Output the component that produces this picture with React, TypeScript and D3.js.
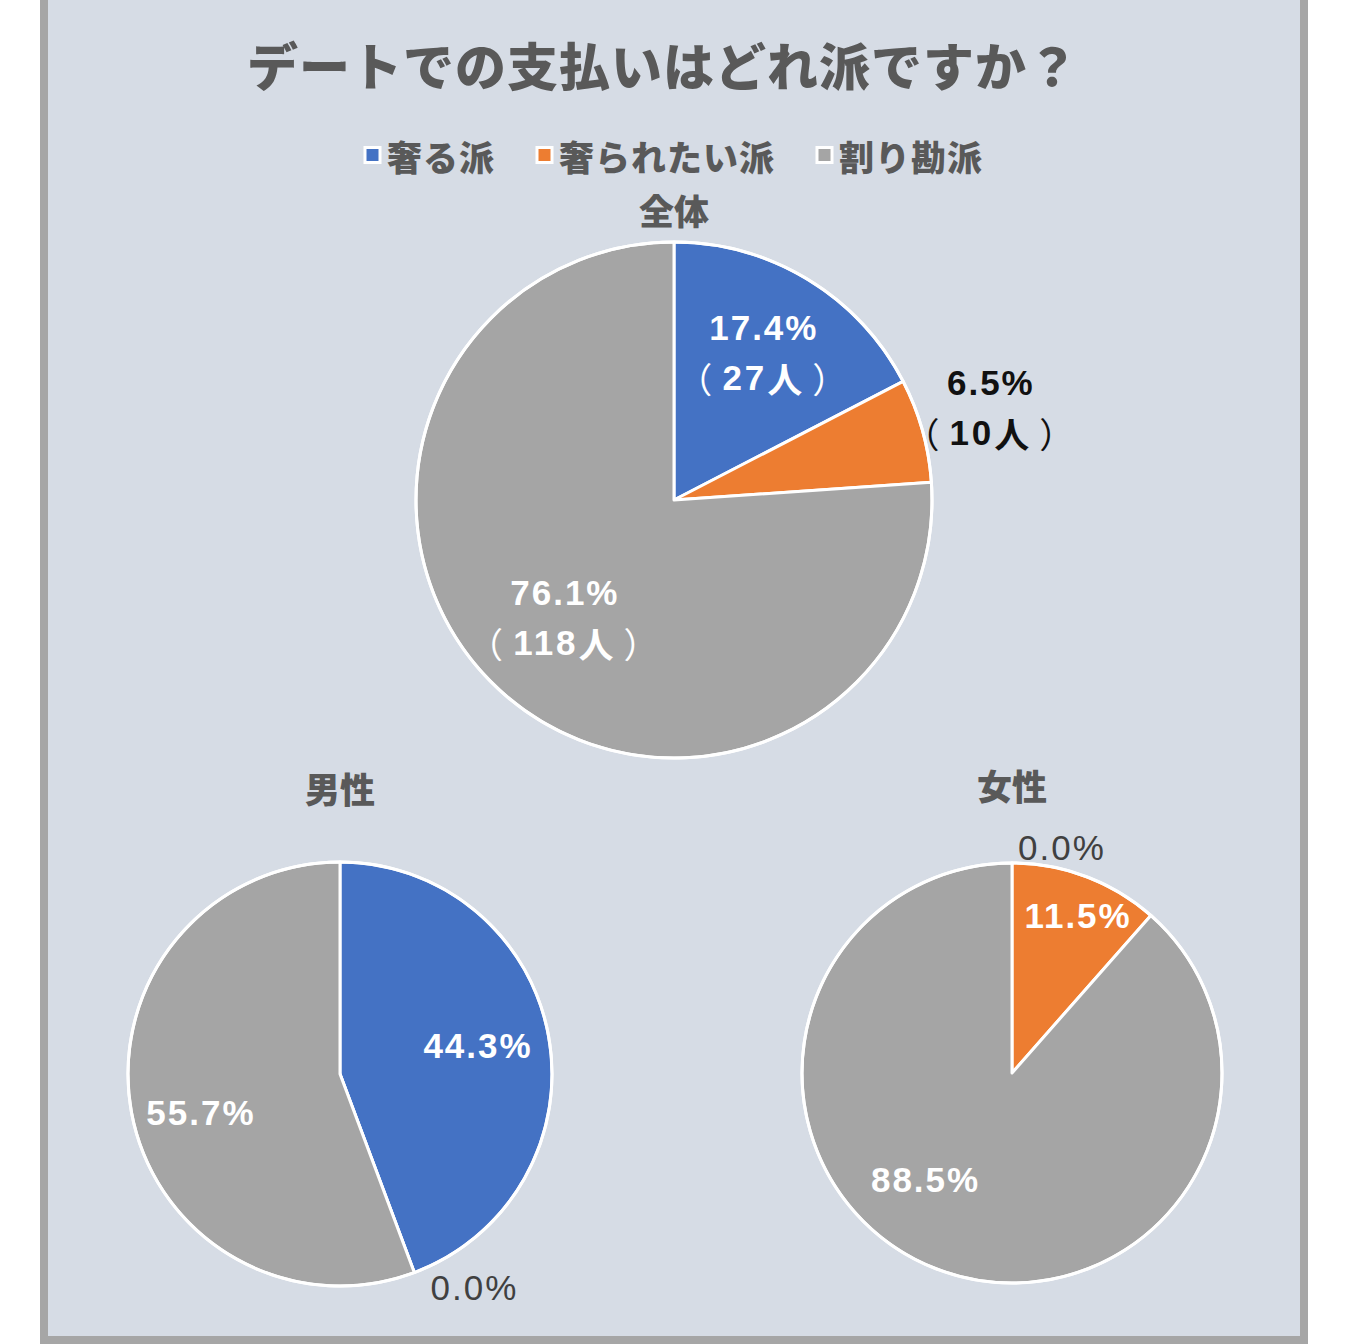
import { useEffect } from "react";
import * as d3 from "d3";

const TITLE = "デートでの支払いはどれ派ですか？";
const CATEGORIES = ["奢る派", "奢られたい派", "割り勘派"];
const COLORS = ["#4472c4", "#ed7d31", "#a5a5a5"];

// percentages per group
const ALL_VALUES = [17.4, 6.5, 76.1];
const ALL_COUNTS = [27, 10, 118];
const MALE_VALUES = [44.3, 0.0, 55.7];
const FEMALE_VALUES = [0.0, 11.5, 88.5];

// label placement: radial factor + angle nudge (deg), excel "best fit"-ish
const ALL_LABELS = [
  { k: 0.67, da: 0, fill: "#fff", weight: 700 },
  { k: 1.28, da: -0.7, fill: "#111", weight: 600 },
  { k: 0.62, da: 0, fill: "#fff", weight: 700 },
];
const MALE_LABELS = [
  { k: 0.665, da: -1.5, fill: "#fff", weight: 700 },
  { k: 1.19, da: -11.7, fill: "#404040", weight: 400 },
  { k: 0.68, da: -5, fill: "#fff", weight: 700 },
];
const FEMALE_LABELS = [
  { k: 1.1, da: 12.5, fill: "#404040", weight: 400 },
  { k: 0.815, da: 2, fill: "#fff", weight: 700 },
  { k: 0.65, da: 18.6, fill: "#fff", weight: 700 },
];

const W = 1350;
const H = 1344;
const NUM_FONT = "'Liberation Sans', Arial, 'Noto Sans CJK JP', sans-serif";
const JP_FONT = "'Noto Sans CJK JP', 'Noto Sans', sans-serif";

type LabelSpec = { k: number; da: number; fill: string; weight: number };

function Pie({
  cx,
  cy,
  r,
  values,
  counts,
  labels,
  title,
  titleY,
}: {
  cx: number;
  cy: number;
  r: number;
  values: number[];
  counts?: number[];
  labels: LabelSpec[];
  title: string;
  titleY: number;
}) {
  const pie = d3.pie<number>().value((d) => d).sort(null);
  const arcs = pie(values);
  const arc = d3.arc<d3.PieArcDatum<number>>().innerRadius(0).outerRadius(r);

  return (
    <g>
      <text
        x={cx}
        y={titleY}
        textAnchor="middle"
        dominantBaseline="central"
        fontFamily={JP_FONT}
        fontWeight={800}
        fontSize={35}
        fill="#595959"
      >
        {title}
      </text>
      <g transform={`translate(${cx},${cy})`}>
        {arcs.map((a, i) => (
          <path key={i} d={arc(a) || ""} fill={COLORS[i]} stroke="#fff" strokeWidth={3} strokeLinejoin="round" />
        ))}
        <circle r={r} fill="none" stroke="#fff" strokeWidth={3} />
        {arcs.map((a, i) => {
          const spec = labels[i];
          const mid = (a.startAngle + a.endAngle) / 2 + (spec.da * Math.PI) / 180;
          const lr = r * spec.k;
          const x = lr * Math.sin(mid);
          const y = -lr * Math.cos(mid);
          const pct = `${values[i].toFixed(1)}%`;
          const lh = 50;
          const nLines = counts ? 2 : 1;
          const y0 = y - ((nLines - 1) * lh) / 2;
          return (
            <text
              key={"l" + i}
              x={x}
              textAnchor="middle"
              dominantBaseline="central"
              fontFamily={NUM_FONT}
              fontWeight={spec.weight}
              fontSize={35}
              fill={spec.fill}
            >
              <tspan x={x} y={y0} letterSpacing={2}>
                {pct}
              </tspan>
              {counts && (
                <tspan x={x} y={y0 + lh} letterSpacing={3}>
                  <tspan fontFamily={JP_FONT} fontWeight={400}>（</tspan>
                  <tspan dx={7}>{counts[i]}</tspan>
                  <tspan fontFamily={JP_FONT}>人</tspan>
                  <tspan dx={7} fontFamily={JP_FONT} fontWeight={400}>）</tspan>
                </tspan>
              )}
            </text>
          );
        })}
      </g>
    </g>
  );
}

export default function App() {
  useEffect(() => {
    document.body.style.margin = "0";
  }, []);

  // legend layout
  const legendFont = 35;
  const sq = 15;
  const itemGap = 42;
  const textGap = 7;
  const widths = CATEGORIES.map((c) => sq + textGap + c.length * (legendFont + 1));
  const total = d3.sum(widths) + itemGap * (CATEGORIES.length - 1);
  const legendStart = 674 - total / 2;
  const starts = widths.map((_, i) => legendStart + d3.sum(widths.slice(0, i)) + itemGap * i);

  return (
    <svg width={W} height={H} viewBox={`0 0 ${W} ${H}`} style={{ display: "block" }}>
      <rect x={0} y={0} width={W} height={H} fill="#fff" />
      <rect x={44} y={-4} width={1260} height={1344} fill="#d6dce5" stroke="#a6a6a6" strokeWidth={8} />
      <text
        x={663}
        y={64}
        textAnchor="middle"
        dominantBaseline="central"
        fontFamily={JP_FONT}
        fontWeight={800}
        fontSize={51}
        letterSpacing={1}
        fill="#595959"
      >
        {TITLE}
      </text>
      <g>
        {CATEGORIES.map((c, i) => (
          <g key={c} transform={`translate(${starts[i]},155)`}>
            <rect x={0} y={-sq / 2} width={sq} height={sq} fill={COLORS[i]} stroke="#fff" strokeWidth={3} />
            <text
              x={sq + textGap}
              y={0}
              dominantBaseline="central"
              fontFamily={JP_FONT}
              fontWeight={800}
              fontSize={legendFont}
              letterSpacing={1}
              fill="#595959"
            >
              {c}
            </text>
          </g>
        ))}
      </g>
      <Pie cx={674} cy={500} r={258} values={ALL_VALUES} counts={ALL_COUNTS} labels={ALL_LABELS} title="全体" titleY={209} />
      <Pie cx={340} cy={1074} r={212} values={MALE_VALUES} labels={MALE_LABELS} title="男性" titleY={787} />
      <Pie cx={1012} cy={1073} r={210} values={FEMALE_VALUES} labels={FEMALE_LABELS} title="女性" titleY={784} />
    </svg>
  );
}
